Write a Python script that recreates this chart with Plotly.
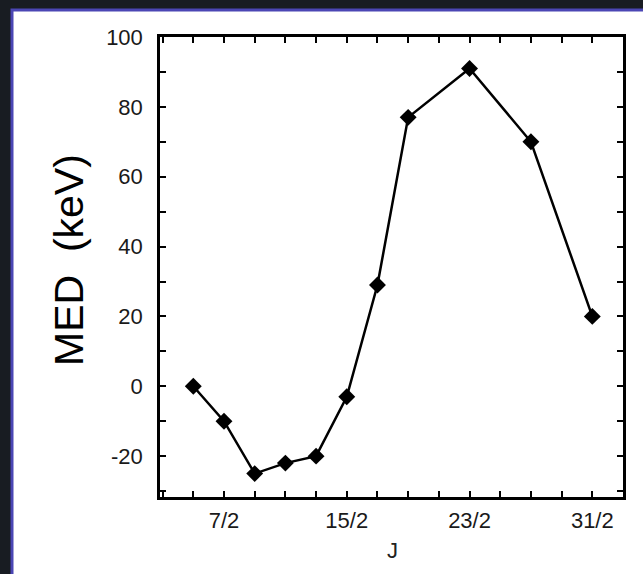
import plotly.graph_objects as go

# Day of month and measured energy shift (keV)
days = [5, 7, 9, 11, 13, 15, 17, 19, 23, 27, 31]
med = [0, -10, -25, -22, -20, -3, 29, 77, 91, 70, 20]

# Labelled date ticks
tick_days = [7, 15, 23, 31]
tick_labels = ["7/2", "15/2", "23/2", "31/2"]

# Labelled energy ticks (plain hyphen for negatives)
energy_ticks = [-20, 0, 20, 40, 60, 80, 100]
energy_labels = ["-20", "0", "20", "40", "60", "80", "100"]

W, H = 643, 574
ML, MR, MT, MB = 160, 20, 37, 77
pw = W - ML - MR
ph = H - MT - MB


def px_x(x):
    return (x - ML) / pw


def px_y(y):
    return (H - MB - y) / ph


fig = go.Figure(
    go.Scatter(
        x=days,
        y=med,
        mode="lines+markers",
        line=dict(color="black", width=2.5),
        marker=dict(symbol="diamond", size=13, color="black"),
        showlegend=False,
    )
)

axis_common = dict(
    showline=True,
    linecolor="black",
    linewidth=2.5,
    mirror="allticks",
    ticks="inside",
    ticklen=6,
    tickwidth=1.5,
    tickcolor="black",
    showgrid=False,
    zeroline=False,
    tickfont=dict(family="Liberation Sans, Arial", size=22, color="#1a1a1a"),
)

fig.update_xaxes(
    range=[2.83, 33.0],
    tickmode="array",
    tickvals=tick_days,
    ticktext=tick_labels,
    minor=dict(ticks="inside", dtick=2, tick0=1, ticklen=6, tickwidth=1.5,
               tickcolor="black", showgrid=False),
    ticklabelstandoff=2,
    **axis_common,
)
fig.update_yaxes(
    range=[-31.7, 100],
    tickmode="array",
    tickvals=energy_ticks,
    ticktext=energy_labels,
    minor=dict(ticks="inside", dtick=10, tick0=0, ticklen=6, tickwidth=1.5,
               tickcolor="black", showgrid=False),
    ticklabelstandoff=10,
    **axis_common,
)

fig.update_layout(
    width=W,
    height=H,
    margin=dict(l=ML, r=MR, t=MT, b=MB),
    paper_bgcolor="#181c22",
    plot_bgcolor="white",
    shapes=[
        dict(
            type="rect",
            xref="paper",
            yref="paper",
            x0=px_x(12),
            x1=px_x(660),
            y0=px_y(600),
            y1=px_y(10),
            fillcolor="white",
            line=dict(color="#4b46b4", width=3),
            layer="below",
        )
    ],
    annotations=[
        dict(
            text="MED  (keV)",
            xref="paper",
            yref="paper",
            x=px_x(69),
            y=px_y(260),
            textangle=-90,
            showarrow=False,
            xanchor="center",
            yanchor="middle",
            font=dict(family="Liberation Sans, Arial", size=41, color="black"),
        ),
        dict(
            text="J",
            xref="paper",
            yref="paper",
            x=px_x(392),
            y=px_y(550),
            showarrow=False,
            xanchor="center",
            yanchor="middle",
            font=dict(family="Liberation Sans, Arial", size=22, color="#222"),
        ),
    ],
)

fig.write_html("out.html")
